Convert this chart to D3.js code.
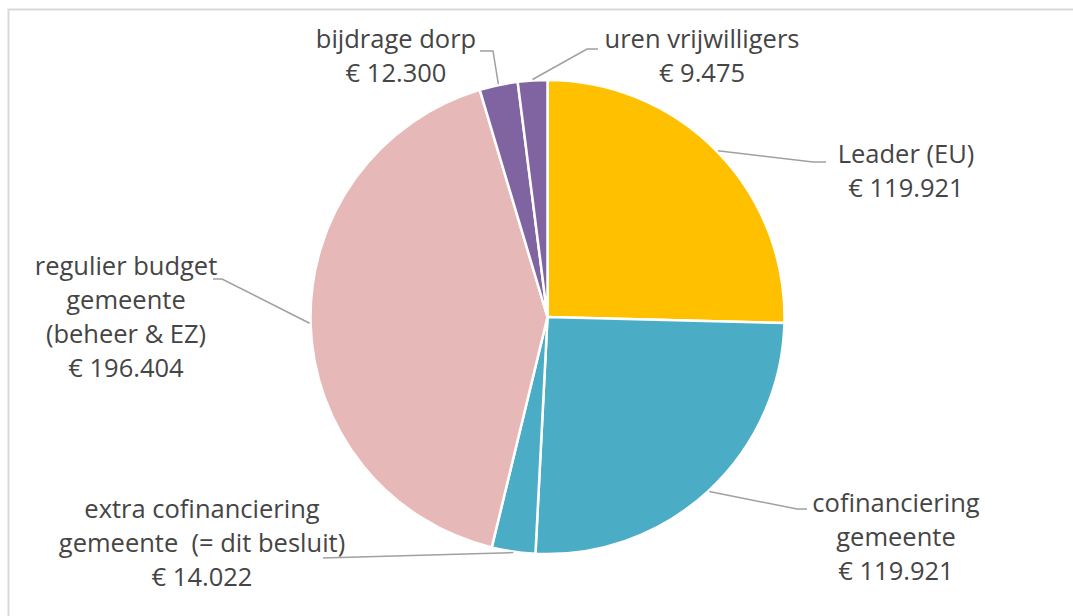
<!DOCTYPE html>
<html>
<head>
<meta charset="utf-8">
<script src="https://cdn.jsdelivr.net/npm/d3@7"></script>
<style>
  body { margin: 0; background: #fff; }
  text { font-family: "Open Sans", sans-serif; fill: #454545; }
</style>
</head>
<body>
<svg class="chart" width="1073" height="616"></svg>
<script>
var categories = ['Leader (EU)', 'cofinanciering gemeente', 'extra cofinanciering gemeente (= dit besluit)',
  'regulier budget gemeente (beheer & EZ)', 'bijdrage dorp', 'uren vrijwilligers'];
var values = [119921, 119921, 14022, 196404, 12300, 9475];
var colors = ['#FFC000', '#4BACC6', '#4BACC6', '#E6B9B8', '#8064A2', '#8064A2'];

// label text lines (without the amount) and where each label block sits
var labelLines = [
  ['Leader (EU)'],
  ['cofinanciering', 'gemeente'],
  ['extra cofinanciering', 'gemeente  (= dit besluit)'],
  ['regulier budget', 'gemeente', '(beheer & EZ)'],
  ['bijdrage dorp'],
  ['uren vrijwilligers']
];
var labelPos = [[906, 163], [896, 512], [202, 518], [126, 275], [396, 48], [702, 48]];
var elbows = [[[813, 162], [826, 162]], [[797, 509], [807, 509]], [[323, 558]],
  [[222, 279], [213, 279]], [[493, 51], [480, 51]], [[587, 49], [598, 49]]];

var cx = 547.5, cy = 317, radius = 237;
var lineH = 34;

var svg = d3.select('.chart');

svg.append('rect')
  .attr('x', 8.5).attr('y', 9.5)
  .attr('width', 1200).attr('height', 800)
  .attr('fill', 'none')
  .attr('stroke', '#d9d9d9')
  .attr('stroke-width', 2);

var fmt = d3.formatLocale({ decimal: ',', thousands: '.', grouping: [3], currency: ['€ ', ''] }).format('$,');

var data = categories.map(function (c, i) { return { name: c, value: values[i], i: i }; });

var pie = d3.pie().sort(null).value(function (d) { return d.value; });
var arcs = pie(data);

var arc = d3.arc().innerRadius(0).outerRadius(radius);
var edge = d3.arc().innerRadius(radius + 1).outerRadius(radius + 1);

var g = svg.append('g').attr('transform', 'translate(' + cx + ',' + cy + ')');

g.selectAll('path.slice')
  .data(arcs)
  .join('path')
  .attr('class', 'slice')
  .attr('d', arc)
  .attr('fill', function (d) { return colors[d.data.i]; })
  .attr('stroke', '#fff')
  .attr('stroke-width', 2.5)
  .attr('stroke-linejoin', 'round');

// leader lines
svg.selectAll('polyline.leader')
  .data(arcs)
  .join('polyline')
  .attr('class', 'leader')
  .attr('points', function (d) {
    var c = edge.centroid(d);
    var pts = [[cx + c[0], cy + c[1]]].concat(elbows[d.data.i]);
    return pts.map(function (p) { return p.join(','); }).join(' ');
  })
  .attr('fill', 'none')
  .attr('stroke', '#a0a0a0')
  .attr('stroke-width', 1.5);

// labels
var labels = svg.selectAll('text.label')
  .data(arcs)
  .join('text')
  .attr('class', 'label')
  .attr('text-anchor', 'middle')
  .style('font-size', '25.5px');

labels.each(function (d) {
  var t = d3.select(this);
  var p = labelPos[d.data.i];
  var lines = labelLines[d.data.i].concat([fmt(d.data.value)]);
  lines.forEach(function (l, k) {
    t.append('tspan')
      .attr('x', p[0])
      .attr('y', p[1] + k * lineH)
      .attr('xml:space', 'preserve')
      .text(l);
  });
});
</script>
</body>
</html>
